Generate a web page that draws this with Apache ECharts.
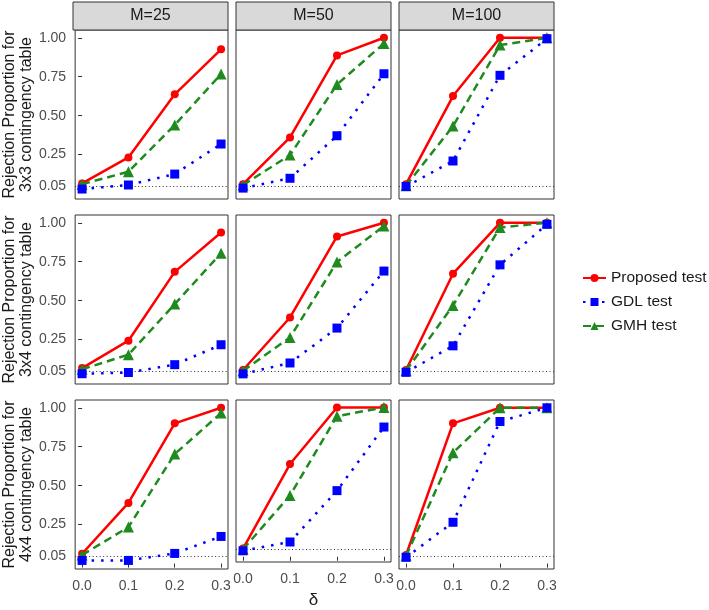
<!DOCTYPE html>
<html>
<head>
<meta charset="utf-8">
<script src="https://cdn.jsdelivr.net/npm/echarts@6/dist/echarts.min.js"></script>
<style>
  html, body { margin: 0; padding: 0; background: #fff; }
  #chart { width: 709px; height: 610px; }
</style>
</head>
<body>
<div id="chart"></div>
<script>
// x values (delta) and facet labels
const deltas = [0.0, 0.1, 0.2, 0.3];
const mLabels = ['M=25', 'M=50', 'M=100'];
const tableLabels = ['3x3', '3x4', '4x4'];
const xTicks = [0.0, 0.1, 0.2, 0.3];
const yTicks = [0.05, 0.25, 0.50, 0.75, 1.00];
const seriesNames = ['Proposed test', 'GDL test', 'GMH test'];

// each table: one row per M (25, 50, 100), values at delta 0, 0.1, 0.2, 0.3
const proposed3x3 = [[0.065, 0.232, 0.637, 0.926], [0.060, 0.360, 0.887, 1.000], [0.060, 0.626, 1.000, 1.000]];
const gdl3x3      = [[0.029, 0.055, 0.125, 0.318], [0.035, 0.098, 0.371, 0.769], [0.045, 0.209, 0.759, 0.994]];
const gmh3x3      = [[0.060, 0.140, 0.440, 0.767], [0.055, 0.247, 0.700, 0.964], [0.050, 0.433, 0.953, 1.000]];

const proposed3x4 = [[0.067, 0.243, 0.685, 0.938], [0.055, 0.392, 0.912, 1.000], [0.055, 0.673, 1.000, 1.000]];
const gdl3x4      = [[0.031, 0.039, 0.089, 0.217], [0.030, 0.100, 0.324, 0.690], [0.040, 0.210, 0.730, 0.990]];
const gmh3x4      = [[0.060, 0.153, 0.478, 0.805], [0.050, 0.264, 0.748, 0.980], [0.050, 0.469, 0.970, 1.000]];

const proposed4x4 = [[0.063, 0.389, 0.900, 1.000], [0.055, 0.621, 1.000, 1.000], [0.055, 0.900, 1.000, 1.000]];
const gdl4x4      = [[0.020, 0.020, 0.065, 0.174], [0.040, 0.099, 0.443, 0.869], [0.040, 0.265, 0.912, 1.000]];
const gmh4x4      = [[0.055, 0.234, 0.703, 0.966], [0.050, 0.411, 0.942, 1.000], [0.050, 0.712, 1.000, 1.000]];

const nominalLevel = 0.05;

const tables = [
  [proposed3x3, gdl3x3, gmh3x3],
  [proposed3x4, gdl3x4, gmh3x4],
  [proposed4x4, gdl4x4, gmh4x4]
];

// panel layout
const colLeft = [73, 236, 399];
const rowTop = [30, 215, 400];
const panelW = 155;
const panelH = 169;
const font = 'Liberation Sans, Arial, sans-serif';

const styles = [
  { color: '#ff0000', type: 'solid', symbol: 'circle', size: 8, z: 3 },
  { color: '#0000ff', type: [2.5, 7], symbol: 'rect', size: 9, z: 5 },
  { color: '#1f8b1f', type: [8, 5], symbol: 'triangle', size: 11, z: 4 }
];

var grids = [], xAxes = [], yAxes = [], series = [], graphics = [];

for (let r = 0; r < 3; r++) {
  for (let c = 0; c < 3; c++) {
    const k = r * 3 + c;
    grids.push({
      left: colLeft[c], top: rowTop[r], width: panelW, height: panelH,
      show: true, borderColor: '#333', borderWidth: 1, backgroundColor: '#fff'
    });
    const bottom = r === 2;
    xAxes.push({
      type: 'value', gridIndex: k, min: -0.015, max: 0.315,
      axisLine: { show: false },
      splitLine: { show: false },
      axisTick: { show: bottom, length: 4, customValues: xTicks, lineStyle: { color: '#333' } },
      axisLabel: {
        show: bottom, customValues: xTicks, margin: 10,
        color: '#4d4d4d', fontSize: 14, fontFamily: font,
        formatter: v => v.toFixed(1)
      },
      name: (bottom && c === 1) ? 'δ' : '',
      nameLocation: 'middle', nameGap: 30,
      nameTextStyle: { color: '#1a1a1a', fontSize: 17, fontFamily: font }
    });
    const left = c === 0;
    yAxes.push({
      type: 'value', gridIndex: k, min: -0.035, max: 1.05,
      axisLine: { show: false },
      splitLine: { show: false },
      axisTick: { show: left, length: 4, customValues: yTicks, lineStyle: { color: '#333' } },
      axisLabel: {
        show: left, customValues: yTicks, margin: 9,
        color: '#4d4d4d', fontSize: 14, fontFamily: font,
        formatter: v => v.toFixed(2)
      },
      name: left ? 'Rejection Proportion for\n' + tableLabels[r] + ' contingency table' : '',
      nameLocation: 'middle', nameRotate: 90, nameGap: 40,
      nameTextStyle: { color: '#1a1a1a', fontSize: 16, lineHeight: 17, fontFamily: font }
    });
    for (let s = 0; s < 3; s++) {
      const vals = tables[r][s][c];
      const st = styles[s];
      const ser = {
        type: 'line', name: seriesNames[s], xAxisIndex: k, yAxisIndex: k,
        data: deltas.map((d, i) => [d, vals[i]]),
        symbol: st.symbol, symbolSize: st.size, z: st.z,
        itemStyle: { color: st.color },
        lineStyle: { color: st.color, width: 2.5, type: st.type },
        emphasis: { disabled: true }
      };
      if (s === 0) {
        ser.markLine = {
          silent: true, symbol: ['none', 'none'], z: 1,
          label: { show: false },
          lineStyle: { color: '#333', width: 1, type: [1, 2.5] },
          data: [{ yAxis: nominalLevel }]
        };
      }
      series.push(ser);
    }
  }
}

// facet strips across the top
for (let c = 0; c < 3; c++) {
  graphics.push({
    type: 'rect', shape: { x: colLeft[c], y: 2, width: panelW, height: 28 },
    style: { fill: '#d9d9d9', stroke: '#333', lineWidth: 1 }
  });
  graphics.push({
    type: 'text', x: colLeft[c] + panelW / 2, y: 16,
    style: { text: mLabels[c], fill: '#1a1a1a', font: '16px ' + font, align: 'center', verticalAlign: 'middle' }
  });
}

var myChart = echarts.init(document.getElementById('chart'));
myChart.setOption({
  animation: false,
  backgroundColor: '#fff',
  textStyle: { fontFamily: font },
  grid: grids,
  xAxis: xAxes,
  yAxis: yAxes,
  series: series,
  graphic: graphics,
  legend: {
    data: seriesNames,
    orient: 'vertical', left: 577, top: 265,
    itemWidth: 23, itemHeight: 10, itemGap: 8,
    textStyle: { color: '#1a1a1a', fontSize: 15.5, fontFamily: font }
  }
});
</script>
</body>
</html>
